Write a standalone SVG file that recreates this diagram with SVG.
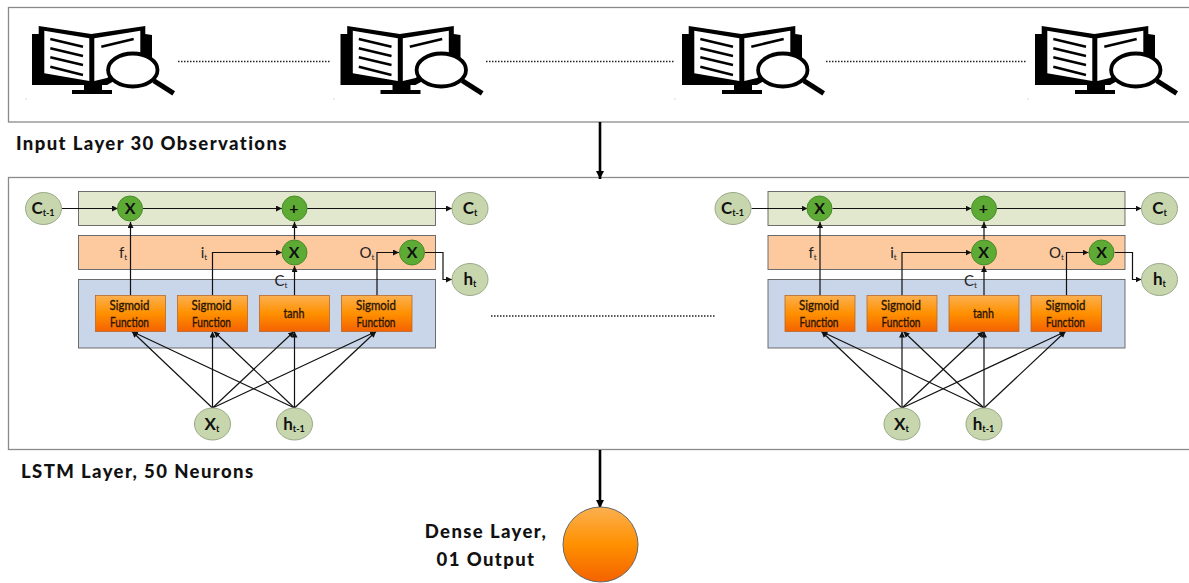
<svg xmlns="http://www.w3.org/2000/svg" xmlns:xlink="http://www.w3.org/1999/xlink" width="1189" height="583" viewBox="0 0 1189 583">
<style>
text{font-family:"Lato","Liberation Sans",sans-serif;fill:#111}
.layer{fill:#fff;stroke:#8a8a8a;stroke-width:1.3}
.band{stroke:#5f5f5f;stroke-width:.9}
.g{fill:#e2e8cd}.p{fill:#fdcaa0}.b{fill:#c9d5e9}
.fn{fill:url(#o);stroke:#b9692a;stroke-width:.8}
.st{fill:#c7d6ac;stroke:#9aa888;stroke-width:1}
.op{fill:#5dab35;stroke:#4a8a2a;stroke-width:1}
.l{font-size:18.500px;font-weight:900;letter-spacing:1.4px}
.fnt{font-size:13.500px;font-weight:400;text-anchor:middle;fill:#2a1500;stroke:#2a1500;stroke-width:.35}
.stt{font-size:17px;font-weight:700;text-anchor:middle}
.opt{font-size:16px;font-weight:700;text-anchor:middle}
.sg{font-size:15px;text-anchor:middle;fill:#222}
.c{fill:none;stroke:#111;stroke-width:1.2}
.ca{marker-end:url(#a)}
.th{fill:none;stroke:#000;stroke-width:2.6;marker-end:url(#A)}
.dots{stroke:#222;stroke-width:1.5;stroke-dasharray:1.5 1.5;fill:none}
.ic{fill:#000}.w{fill:#fff}.il{stroke:#000;stroke-width:2.500;fill:none}
.sp{fill:#bbb}
</style>
<defs>
<linearGradient id="o" x1="0" y1="0" x2="0" y2="1"><stop offset="0" stop-color="#fbb050"/><stop offset=".5" stop-color="#ff9000"/><stop offset="1" stop-color="#f46200"/></linearGradient>
<marker id="a" markerWidth="7" markerHeight="7" refX="6" refY="3" orient="auto" markerUnits="userSpaceOnUse"><path d="M0 0L6 3L0 6Z" fill="#111"/></marker>
<marker id="A" markerWidth="11" markerHeight="9" refX="8" refY="4" orient="auto" markerUnits="userSpaceOnUse"><path d="M0 0L8 4L0 8Z" fill="#000"/></marker>
<g id="icon">
<path class="ic" d="M32 34L38.700 34L38.700 26L91.300 34L145.300 26L145.300 34L152 35L152 60L107 85L32 85Z"/>
<path class="w" d="M44.300 30.700L89.300 38.300L89.300 81L44.300 73.300Z"/>
<path class="w" d="M94.300 38.300L140.300 30.700L140.300 55L107 78L94.300 81Z"/>
<path class="il" d="M50.300 39L83 46.700M50.300 48.300L83 56M50.300 57.300L83 65M50.300 66.700L83 75"/>
<path class="il" d="M101.300 46.700L133.700 39"/>
<rect class="ic" x="84" y="84" width="18" height="7"/>
<rect class="ic" x="72" y="90" width="40" height="4"/>
<ellipse cx="132.800" cy="70" rx="24.700" ry="16.500" fill="#fff" stroke="#000" stroke-width="3.800"/>
<path d="M153.700 80.700L173.700 93.300" stroke="#000" stroke-width="5" fill="none"/>
</g>
<g id="cell-shapes">
<rect class="band g" x="78.500" y="191.500" width="357" height="34"/>
<rect class="band p" x="78.500" y="235.500" width="357" height="34"/>
<rect class="band b" x="78.500" y="279.500" width="357" height="68.500"/>
</g>
<g id="cell-lines">
<path class="c ca" d="M62 208.500H118"/>
<path class="c ca" d="M143 208.500H282"/>
<path class="c ca" d="M307 208.500H452"/>
<path class="c ca" d="M130.500 295.500V222"/>
<path class="c ca" d="M294.500 239.500V222"/>
<path class="c ca" d="M294.500 295.500V266"/>
<path class="c ca" d="M212.500 295.500V252.500H282"/>
<path class="c ca" d="M377 295.500V252.500H399"/>
<path class="c ca" d="M425 252.500H443V279.500H452"/>
<path class="c ca" d="M212.500 408L132 331.500"/>
<path class="c ca" d="M212.500 408V331.500"/>
<path class="c ca" d="M212.500 408L294 331.500"/>
<path class="c ca" d="M212.500 408L376 331.500"/>
<path class="c ca" d="M294.500 408L132 331.500"/>
<path class="c ca" d="M294.500 408L214 331.500"/>
<path class="c ca" d="M294.500 408V331.500"/>
<path class="c ca" d="M294.500 408L376 331.500"/>
</g>
<g id="cell-nodes">
<rect class="fn" x="95.500" y="295.500" width="70" height="36"/>
<rect class="fn" x="177.500" y="295.500" width="70" height="36"/>
<rect class="fn" x="259.500" y="295.500" width="70" height="36"/>
<rect class="fn" x="341.500" y="295.500" width="70.500" height="36"/>
<text class="fnt" x="129.500" y="309.500" textLength="40" lengthAdjust="spacingAndGlyphs">Sigmoid</text><text class="fnt" x="129.500" y="327" textLength="39" lengthAdjust="spacingAndGlyphs">Function</text>
<text class="fnt" x="211.500" y="309.500" textLength="40" lengthAdjust="spacingAndGlyphs">Sigmoid</text><text class="fnt" x="211.500" y="327" textLength="39" lengthAdjust="spacingAndGlyphs">Function</text>
<text class="fnt" x="294" y="318" textLength="21" lengthAdjust="spacingAndGlyphs">tanh</text>
<text class="fnt" x="376" y="309.500" textLength="40" lengthAdjust="spacingAndGlyphs">Sigmoid</text><text class="fnt" x="376" y="327" textLength="39" lengthAdjust="spacingAndGlyphs">Function</text>
<ellipse class="st" cx="43.500" cy="208.500" rx="18" ry="16"/>
<ellipse class="st" cx="470" cy="208.500" rx="18" ry="16"/>
<ellipse class="st" cx="470" cy="279.500" rx="18" ry="16"/>
<ellipse class="st" cx="212.500" cy="424" rx="18" ry="16"/>
<ellipse class="st" cx="294.500" cy="424" rx="18" ry="16"/>
<circle class="op" cx="130" cy="208.500" r="12.500"/>
<circle class="op" cx="294.500" cy="208.500" r="12.500"/>
<circle class="op" cx="294.500" cy="252.500" r="12.500"/>
<circle class="op" cx="412" cy="252.500" r="12.500"/>
<text class="opt" x="130" y="214">X</text><text class="opt" x="294" y="214">+</text><text class="opt" x="294" y="258">X</text><text class="opt" x="412" y="258">X</text>
<text class="stt" x="43" y="214">C<tspan font-size="9" dy="2">t-1</tspan></text>
<text class="stt" x="470" y="214">C<tspan font-size="9" dy="2">t</tspan></text>
<text class="stt" x="470" y="285">h<tspan font-size="9" dy="2">t</tspan></text>
<text class="stt" x="212" y="430">X<tspan font-size="9" dy="2">t</tspan></text>
<text class="stt" x="294" y="430">h<tspan font-size="9" dy="2">t-1</tspan></text>
<text class="sg" x="123" y="258">f<tspan font-size="8" dy="2">t</tspan></text>
<text class="sg" x="204" y="258">i<tspan font-size="8" dy="2">t</tspan></text>
<text class="sg" x="367" y="258">O<tspan font-size="8" dy="2">t</tspan></text>
<text class="sg" x="281" y="286">C<tspan font-size="8" dy="2">t</tspan></text>
</g>
</defs>
<g id="input-layer">
<rect class="layer" x="8.500" y="7.500" width="1190" height="114.500"/>
<use href="#icon"/>
<use href="#icon" x="308.500"/>
<use href="#icon" x="650"/>
<use href="#icon" x="1003"/>
<path class="dots" d="M178 61.500H331M486 61.500H674M826 61.500H1026"/>
<rect class="sp" x="25.500" y="98.500" width="1" height="1"/><rect class="sp" x="333.500" y="98.500" width="1" height="1"/><rect class="sp" x="674.500" y="98.500" width="1" height="1"/><rect class="sp" x="1027.500" y="98.500" width="1" height="1"/>
<text class="l" x="16" y="150">Input Layer 30 Observations</text>
</g>
<g id="lstm-layer">
<rect class="layer" x="8.500" y="177.500" width="1190" height="272"/>
<path class="dots" d="M491 316H716"/>
<text class="l" x="21" y="478">LSTM Layer, 50 Neurons</text>
</g>
<g id="cell-1-bands"><use href="#cell-shapes"/></g>
<g id="cell-2-bands"><use href="#cell-shapes" x="689.500"/></g>
<g id="connectors">
<path class="th" d="M600 122V179"/>
<path class="th" d="M600 450V508"/>
<use href="#cell-lines"/>
<use href="#cell-lines" x="689.500"/>
</g>
<g id="cell-1"><use href="#cell-nodes"/></g>
<g id="cell-2"><use href="#cell-nodes" x="689.500"/></g>
<g id="dense-layer">
<circle cx="600.500" cy="544.500" r="37.500" fill="url(#o)" stroke="#666" stroke-width="1"/>
<text class="l" x="486" y="538" text-anchor="middle">Dense Layer,</text>
<text class="l" x="486" y="566" text-anchor="middle">01 Output</text>
</g>
</svg>
